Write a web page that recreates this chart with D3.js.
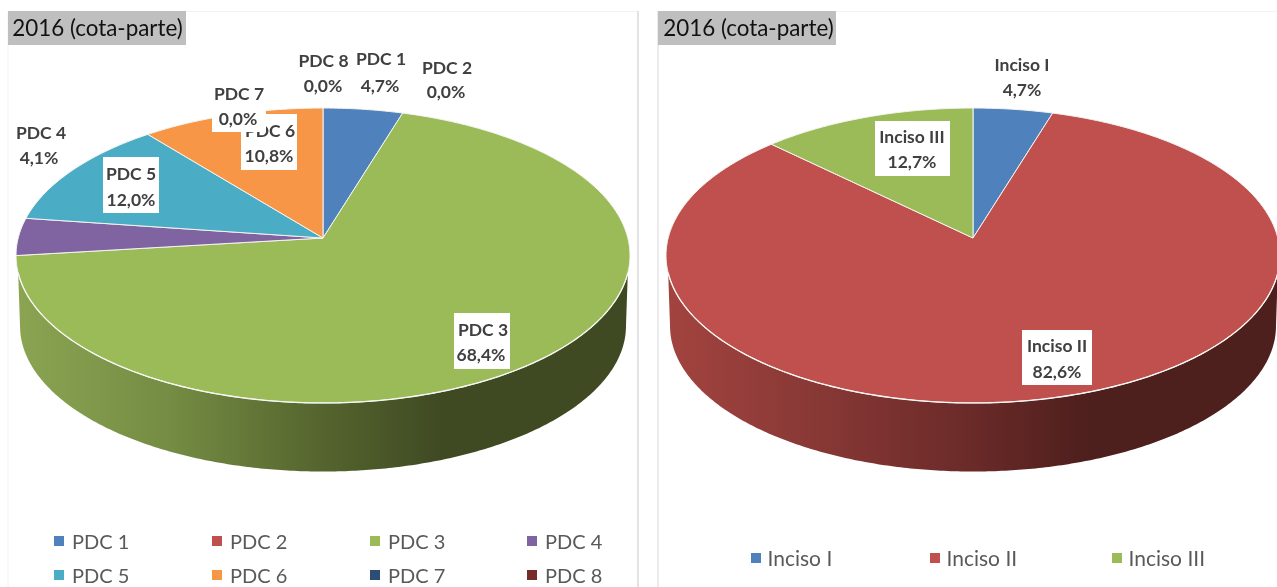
<!DOCTYPE html>
<html>
<head>
<meta charset="utf-8">
<script src="https://cdn.jsdelivr.net/npm/d3@7"></script>
<style>
html,body{margin:0;padding:0;background:#fff;overflow:hidden}
svg{display:block;filter:blur(0.35px)}
text{font-family:Lato,"Open Sans",sans-serif}
</style>
</head>
<body>
<svg id="c" width="1277" height="587"></svg>
<script>
// ---- data ----
const titleText = "2016 (cota-parte)";
const pdcCategories = ["PDC 1","PDC 2","PDC 3","PDC 4","PDC 5","PDC 6","PDC 7","PDC 8"];
const pdcValues = [4.7,0.0,68.4,4.1,12.0,10.8,0.0,0.0];
const incisoCategories = ["Inciso I","Inciso II","Inciso III"];
const incisoValues = [4.7,82.6,12.7];
const palette = ["#4f81bd","#c0504d","#9bbb59","#8064a2","#4bacc6","#f79646","#2c4d75","#772c2a"];

// ---- layout ----
const pdcLabels = [
 {x:381,y1:58,x2:380,y2:85},
 {x:447,y1:67,x2:446,y2:91},
 {x:483,y1:329,x2:481,y2:354,box:[454,313,56,56]},
 {x:41,y1:132,x2:39,y2:157},
 {x:131,y1:173,x2:131,y2:199,box:[103,157,56,56]},
 {x:270,y1:130,x2:269,y2:155,box:[241,114,56,56]},
 {x:239,y1:93,x2:238,y2:118,box:[212,80,54,52]},
 {x:323.5,y1:60,x2:323,y2:85}
];
const incisoLabels = [
 {x:1022,y1:64,x2:1022,y2:89},
 {x:1057,y1:345,x2:1057,y2:371,box:[1022,330,70,55]},
 {x:912,y1:136,x2:912,y2:161,box:[875,121,75,55]}
];
const pdcLegend = {xs:[54,212,370,527],ys:[541,575],cols:4,size:20,gap:18};
const incisoLegend = {xs:[751,930,1112],ys:[558],cols:3,size:21,gap:16.5};
const sideStopsGreen = [[20,"#8aa452"],[170,"#748c43"],[323,"#55642e"],[440,"#3f4a23"]];
const sideStopsRed = [[670,"#a2433f"],[820,"#873835"],[973,"#6a2a28"],[1090,"#4d1f1d"]];

const svg = d3.select("#c");
const defs = svg.append("defs");
const fmt = d3.formatLocale({decimal:",",thousands:".",grouping:[3],currency:["",""]}).format(".1f");

// perspective disc: apex is the pie centre, far half shorter than near half
const k = 0.1186, bY = 145.4, aX = 304.8;
const rim = (cx,cy,s) => {
  const toX = d3.scaleLinear().domain([0,1]).range([cx,cx+aX*s]);
  const toY = d3.scaleLinear().domain([0,1]).range([cy,cy-bY*s]);
  return t => { const u=Math.sin(t), v=Math.cos(t), w=1+k*v; return [toX(u/w),toY(v/w)]; };
};
const arcPts = (f,a0,a1) => {
  const n = Math.max(2,Math.ceil(Math.abs(a1-a0)/0.01));
  return d3.range(n+1).map(i => f(a0+(a1-a0)*i/n));
};
const line = d3.line();

function chart(o){
  const g = svg.append("g");
  // frame
  g.append("line").attr("x1",o.left).attr("x2",o.left).attr("y1",11).attr("y2",587).attr("stroke",o.frame).attr("stroke-width",o.frameW);
  g.append("line").attr("x1",o.left).attr("x2",o.right).attr("y1",11.5).attr("y2",11.5).attr("stroke","#f2f2f2");

  const pie = d3.pie().sort(null).value(d=>d)(o.values);
  const top = rim(o.cx,238,1), bot = rim(o.cx,308.7,0.987);
  const startVis = 103.5*Math.PI/180, endVis = 256.5*Math.PI/180;
  const tanA = 96.8*Math.PI/180, tanB = 263.2*Math.PI/180;

  // gradient for side wall
  const id = "side"+o.key;
  const grad = defs.append("linearGradient").attr("id",id).attr("gradientUnits","userSpaceOnUse")
    .attr("x1",o.stops[0][0]).attr("x2",o.stops[o.stops.length-1][0]).attr("y1",0).attr("y2",0);
  const x0=o.stops[0][0], x1=o.stops[o.stops.length-1][0];
  o.stops.forEach(s=>grad.append("stop").attr("offset",(s[0]-x0)/(x1-x0)).attr("stop-color",s[1]));

  // side wall
  const wall = [...arcPts(top,startVis,endVis), ...arcPts(bot,tanB,tanA)];
  g.append("path").attr("d",line(wall)+"Z").attr("fill",`url(#${id})`);

  // top face
  pie.forEach((d,i)=>{
    if(d.value<=0) return;
    const pts=[[o.cx,238],...arcPts(top,d.startAngle,d.endAngle)];
    g.append("path").attr("d",line(pts)+"Z").attr("fill",palette[i]).attr("stroke","#f4f4f0").attr("stroke-width",1).attr("stroke-linejoin","round");
  });
  // bright rim along the front edge
  g.append("path").attr("d",line(arcPts(top,startVis,endVis))).attr("fill","none").attr("stroke","#f6f6f2").attr("stroke-width",1.3);

  // title
  g.append("rect").attr("x",o.left).attr("y",11).attr("width",o.titleW).attr("height",34).attr("fill","#bfbfbf");
  g.append("text").attr("x",o.titleX).attr("y",36).attr("text-anchor","middle")
    .attr("font-size",o.titleSize).attr("fill","#111").text(titleText);

  // labels
  o.labels.forEach((l,i)=>{
    if(l.box) g.append("rect").attr("x",l.box[0]).attr("y",l.box[1]).attr("width",l.box[2]).attr("height",l.box[3]).attr("fill","#fff");
    const t = g.append("g").attr("font-size",17.5).attr("font-weight",700).attr("fill","#404040").attr("text-anchor","middle").attr("dominant-baseline","central");
    t.append("text").attr("x",l.x).attr("y",l.y1).text(o.cats[i]);
    t.append("text").attr("x",l.x2).attr("y",l.y2).text(fmt(o.values[i])+"%");
  });

  // legend
  o.cats.forEach((c,i)=>{
    const col=i%o.legend.cols, row=Math.floor(i/o.legend.cols);
    const x=o.legend.xs[col], y=o.legend.ys[row];
    g.append("rect").attr("x",x).attr("y",y-5).attr("width",10).attr("height",10).attr("fill",palette[i]);
    g.append("text").attr("x",x+o.legend.gap).attr("y",y-0.5).attr("dominant-baseline","central")
      .attr("font-size",o.legend.size).attr("fill","#595959").text(c);
  });
}

chart({key:"a",cx:323,left:8,right:637,frame:"#f2f2f2",frameW:1,titleW:178,titleX:97.5,titleSize:22.4,
  cats:pdcCategories,values:pdcValues,labels:pdcLabels,legend:pdcLegend,stops:sideStopsGreen});
chart({key:"b",cx:973,left:658,right:1277,frame:"#e4e4e4",frameW:1.5,titleW:178,titleX:748.5,titleSize:22.4,
  cats:incisoCategories,values:incisoValues,labels:incisoLabels,legend:incisoLegend,stops:sideStopsRed});
svg.append("line").attr("x1",638).attr("x2",638).attr("y1",11).attr("y2",587).attr("stroke","#e4e4e4").attr("stroke-width",2);
</script>
</body>
</html>
